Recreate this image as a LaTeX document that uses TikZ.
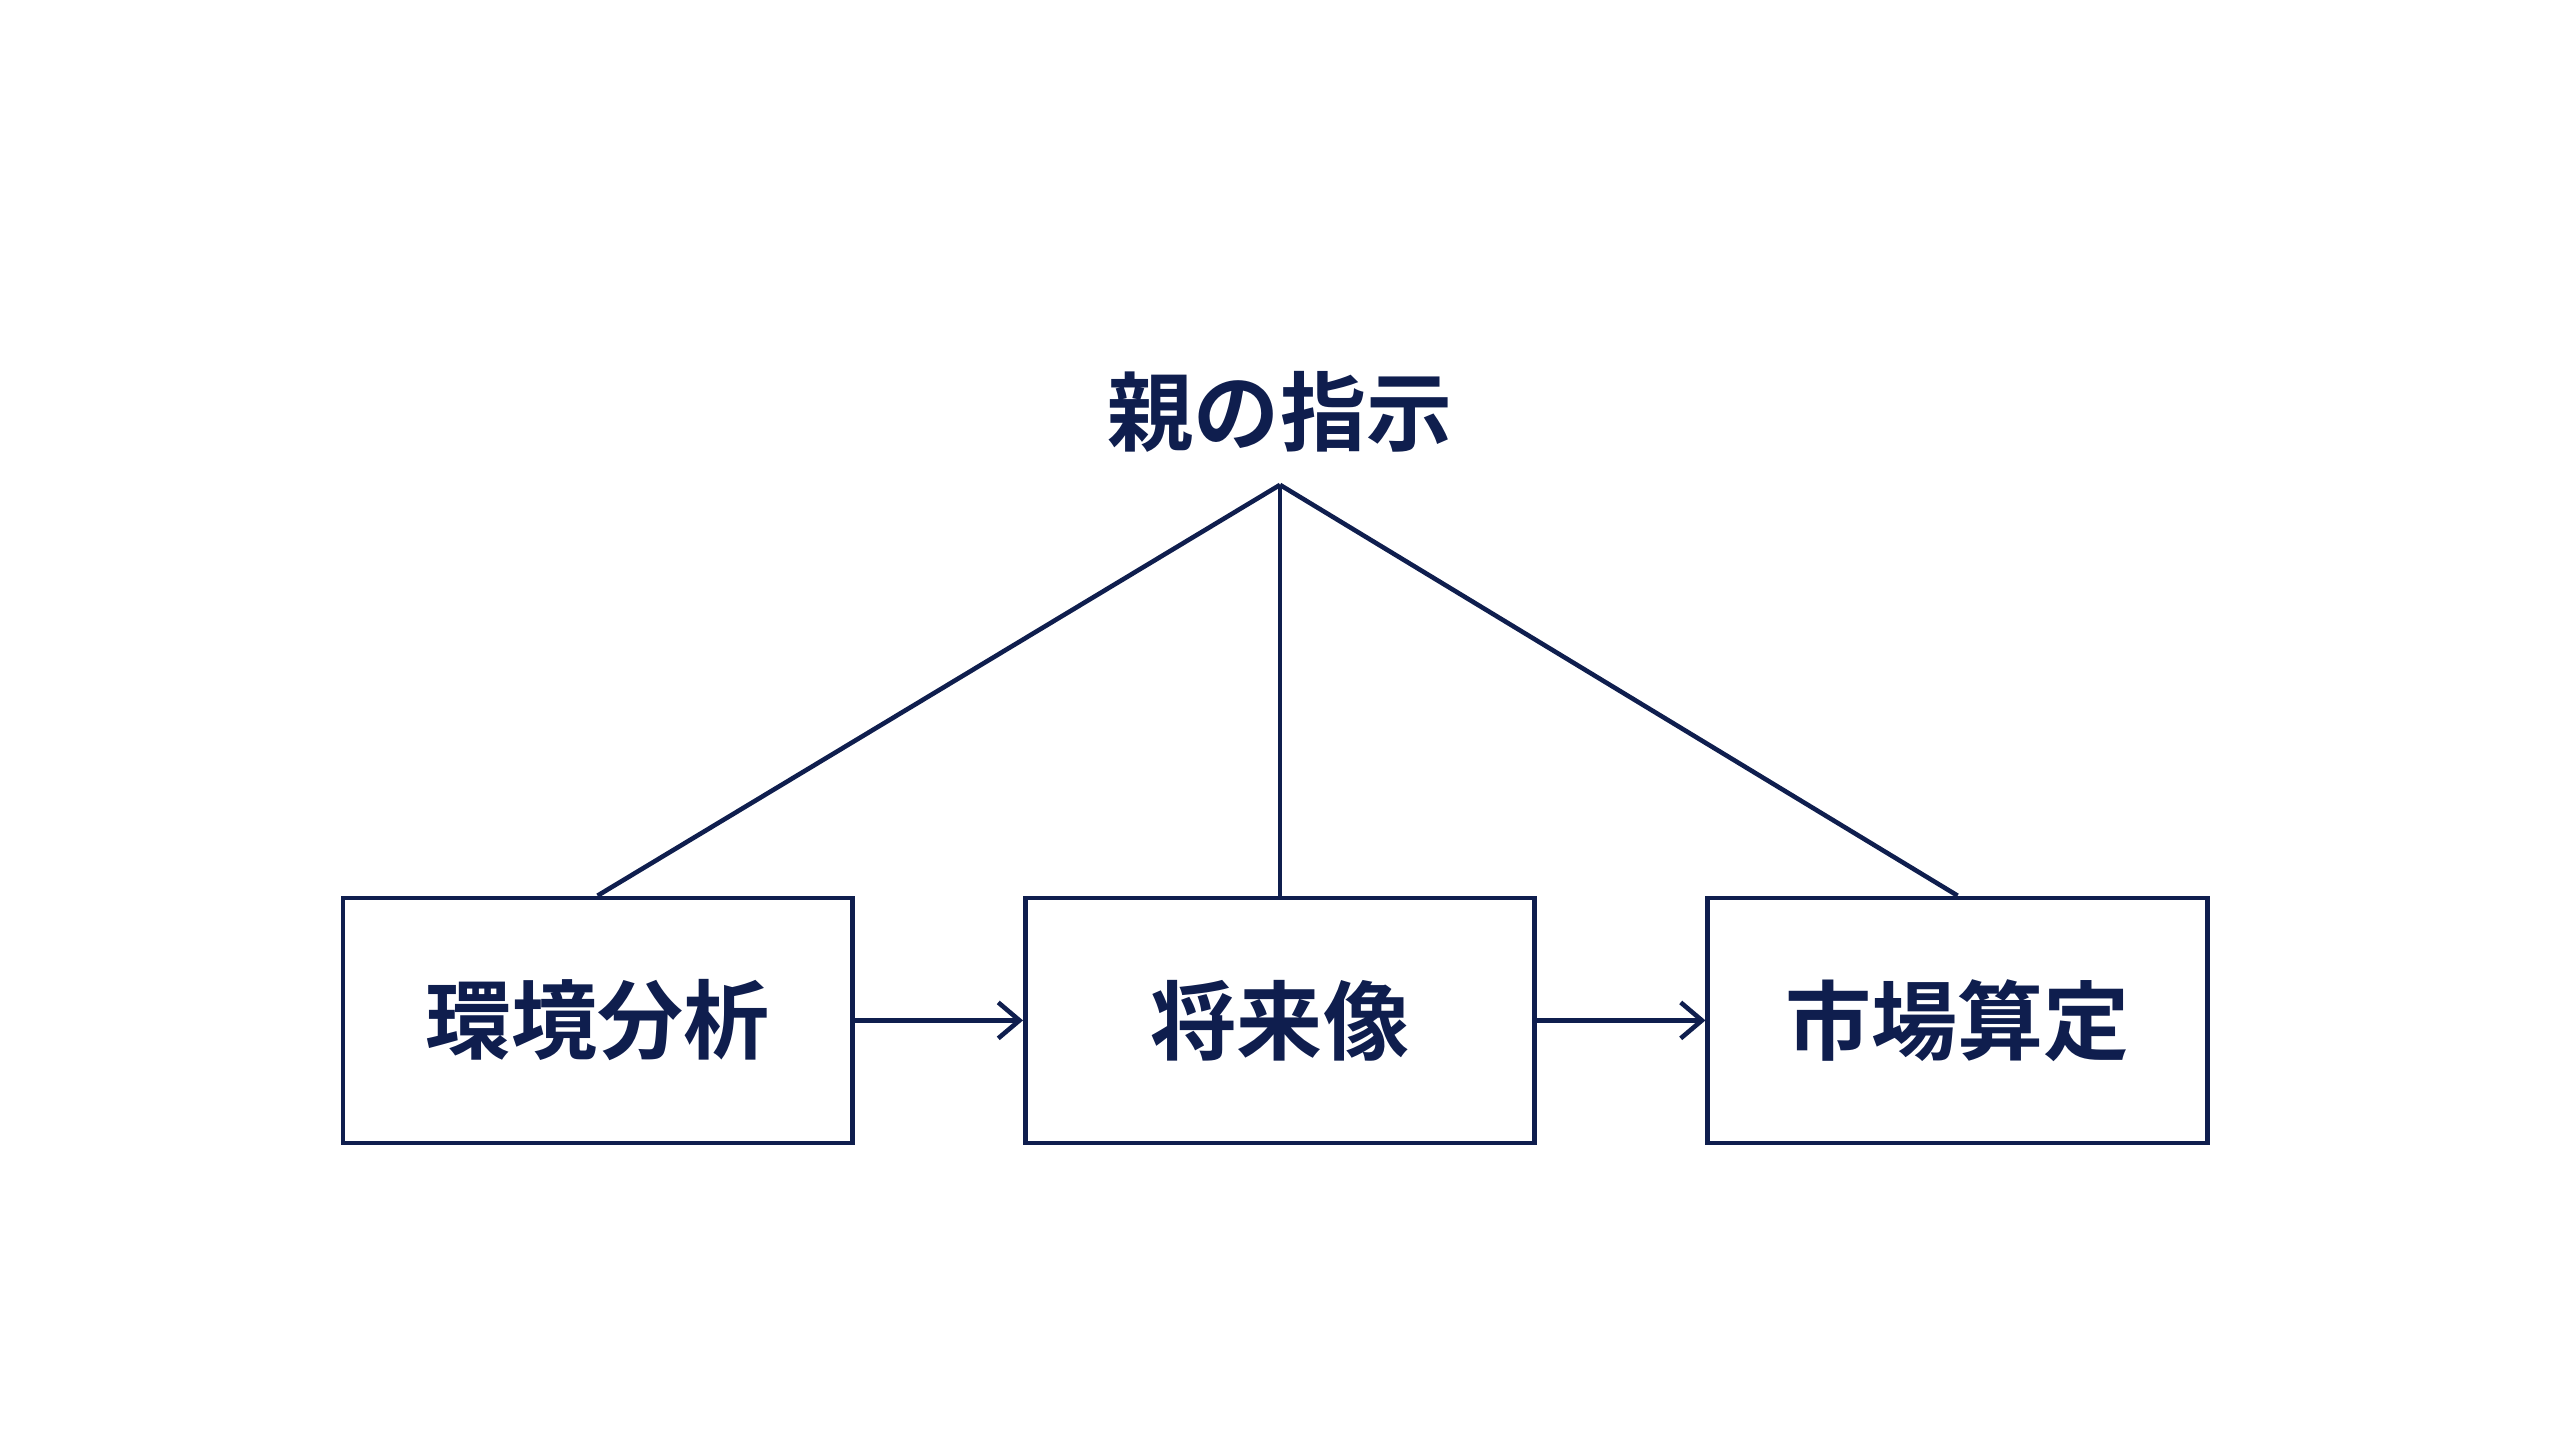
\documentclass[tikz,border=0pt]{standalone}
\usepackage{fontspec}
\setmainfont{Noto Sans CJK JP}[BoldFont={Noto Sans CJK JP Bold}]
\usetikzlibrary{arrows.meta}
\definecolor{navy}{HTML}{0F1E4E}
\tikzset{
  stage/.style={draw=navy, line width=0.8pt, minimum height=1.5cm, inner sep=0pt,
    text=navy, font=\fontsize{15}{17}\selectfont\bfseries},
  link/.style={draw=navy, line width=0.8pt},
  flow/.style={link, -{Straight Barb[length=1.3mm, width=2.2mm]}},
}
\begin{document}
\begin{tikzpicture}
\useasboundingbox (0,0) rectangle (15.68,8.75);
\node[stage, minimum width=3.12cm] (env) at (3.66,2.5) {環境分析};
\node[stage, minimum width=3.12cm] (vision) at (7.84,2.5) {将来像};
\node[stage, minimum width=3.06cm] (market) at (11.99,2.5) {市場算定};
\node[text=navy, font=\fontsize{15}{17}\selectfont\bfseries] (order) at (7.84,6.23) {親の指示};
\coordinate (apex) at (7.84,5.78);
% from the instruction down to each stage
\draw[link] (apex) -- (env.north);
\draw[link] (apex) -- (vision.north);
\draw[link] (apex) -- (market.north);
\draw[flow] (env) -- (vision);
\draw[flow] (vision) -- (market);
\end{tikzpicture}
\end{document}
